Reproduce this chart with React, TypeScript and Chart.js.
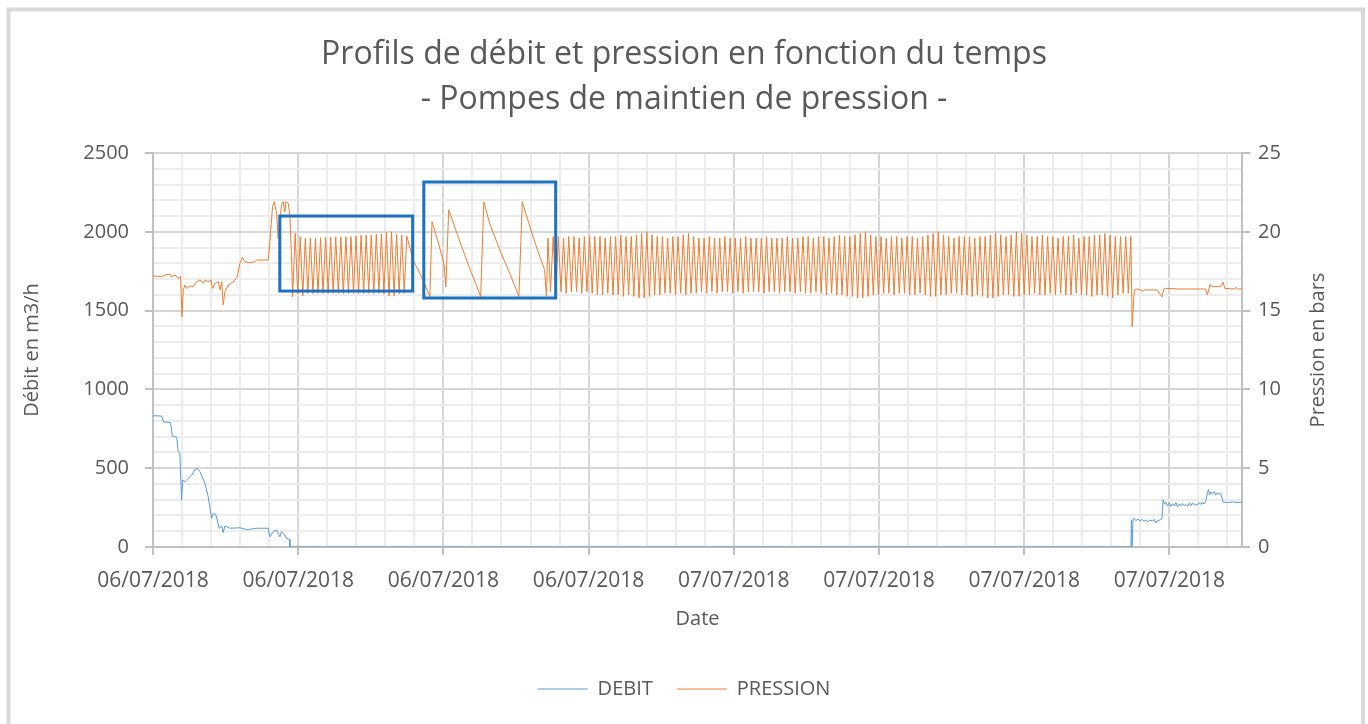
import React, { useEffect, useRef } from 'react';
import { Chart, registerables } from 'chart.js';

Chart.register(...registerables);

// ---------- Texts ----------
const TITLE_LINES = ['Profils de débit et pression en fonction du temps', '- Pompes de maintien de pression -'];
const X_TITLE = 'Date';
const Y_LEFT_TITLE = 'Débit en m3/h';
const Y_RIGHT_TITLE = 'Pression en bars';
const SERIES_NAMES = ['DEBIT', 'PRESSION'];

// ---------- X axis (hours since first label) ----------
const X_MAX = 45;
const X_MAJOR = 6;
const X_MINOR = 1.2;
const X_TICK_LABELS = ['06/07/2018', '06/07/2018', '06/07/2018', '06/07/2018', '07/07/2018', '07/07/2018', '07/07/2018', '07/07/2018'];

// ---------- Y axes ----------
const Y_LEFT_MAX = 2500;
const Y_LEFT_MAJOR = 500;
const Y_LEFT_MINOR = 100;
const Y_RIGHT_MAX = 25;
const Y_RIGHT_MAJOR = 5;

// ---------- DEBIT (m3/h) ----------
const DEBIT_START_T = [0, 0.36, 0.43, 0.73, 0.80, 0.98, 1.04, 1.11, 1.18, 1.23, 1.32, 1.46, 1.60, 1.73, 1.83, 1.94, 2.15, 2.28, 2.42, 2.49, 2.60, 2.74, 2.84, 2.90, 2.97, 3.18, 3.59, 3.90, 4.28, 4.76, 4.83, 4.97, 5.11, 5.24, 5.31, 5.45, 5.52, 5.63, 5.66];
const DEBIT_START_V = [833, 831, 795, 789, 704, 696, 605, 596, 298, 425, 414, 436, 457, 489, 499, 478, 404, 319, 182, 214, 203, 119, 133, 91, 133, 119, 122, 110, 119, 119, 65, 97, 108, 65, 97, 76, 55, 49, 0];
const DEBIT_END_T = [40.41, 40.43, 40.46, 40.50, 40.54, 40.62, 40.70, 40.78, 40.86, 40.95, 41.03, 41.12, 41.20, 41.30, 41.38, 41.44, 41.52, 41.58, 41.65, 41.69, 41.74, 41.80, 41.85, 41.92, 41.99, 42.06, 42.13, 42.20, 42.27, 42.34, 42.40, 42.47, 42.54, 42.61, 42.68, 42.75, 42.82, 42.89, 42.96, 43.03, 43.09, 43.16, 43.23, 43.30, 43.37, 43.43, 43.50, 43.57, 43.61, 43.66, 43.71, 43.78, 43.85, 43.92, 43.98, 44.05, 44.12, 44.22, 44.40, 44.60, 44.75, 45];
const DEBIT_END_V = [0, 171, 0, 180, 180, 168, 178, 165, 175, 163, 172, 160, 170, 165, 175, 152, 168, 170, 175, 178, 300, 272, 285, 262, 280, 258, 275, 262, 280, 255, 272, 260, 276, 262, 270, 258, 278, 263, 280, 265, 272, 268, 282, 270, 285, 272, 290, 340, 365, 330, 350, 335, 352, 330, 345, 335, 340, 285, 282, 286, 283, 284];

// ---------- PRESSION (bars) ----------
const PRES_START_T = [0, 0.36, 0.50, 0.70, 0.77, 0.91, 1.04, 1.14, 1.20, 1.25, 1.32, 1.39, 1.53, 1.66, 1.80, 1.94, 2.08, 2.15, 2.28, 2.39, 2.46, 2.56, 2.70, 2.77, 2.84, 2.90, 2.97, 3.11, 3.32, 3.48, 3.59, 3.70, 3.80, 4.00, 4.21, 4.28, 4.42, 4.76, 4.83, 4.94, 5.01, 5.11, 5.17, 5.31, 5.38, 5.45, 5.49, 5.59, 5.66, 5.73];
const PRES_START_V = [17.20, 17.15, 17.26, 17.32, 17.15, 17.26, 17.05, 17.15, 14.61, 16.31, 16.62, 16.41, 16.56, 16.52, 16.83, 16.94, 16.73, 16.94, 16.83, 16.94, 16.41, 16.73, 16.83, 16.31, 16.83, 15.36, 16.20, 16.62, 16.83, 17.15, 18.00, 18.38, 18.10, 18.04, 18.10, 18.21, 18.21, 18.21, 19.37, 21.60, 21.91, 21.17, 19.59, 21.70, 21.91, 21.27, 21.91, 21.81, 20.96, 18.00];

// first pump cycling block: logged at a regular interval
const OSC1_START = 5.77;
const OSC1_STEP = 0.1048;
const OSC1_VALUES = [15.88, 19.90, 16.05, 19.69, 15.95, 19.58, 16.10, 19.62, 16.08, 19.58, 16.10, 19.62, 16.10, 19.65, 16.08, 19.65, 16.10, 19.69, 16.10, 19.69, 16.08, 19.69, 16.10, 19.69, 16.10, 19.73, 16.08, 19.79, 16.10, 19.79, 16.10, 19.79, 16.08, 19.86, 16.10, 19.86, 16.05, 19.97, 15.92, 20.01, 15.95, 19.86, 16.08, 19.79, 16.10, 19.73];

const PRES_MID_T = [10.75, 11.16, 11.44, 11.53, 11.78, 12.03, 12.10, 12.22, 12.68, 13.09, 13.54, 13.67, 13.91, 14.33, 14.74, 15.12, 15.26, 15.64, 15.91, 16.18, 16.26];
const PRES_MID_V = [18.21, 16.94, 15.88, 20.64, 19.37, 17.90, 16.50, 21.40, 19.37, 17.68, 15.90, 21.90, 20.54, 18.85, 17.37, 15.90, 21.90, 20.00, 18.74, 17.60, 15.90];

// long pump cycling block: peaks and troughs logged at a regular interval
const OSC2_START = 16.32;
const OSC2_STEP = 0.10754;
const OSC2_PEAKS = [
  19.6, 19.7, 19.7, 19.6, 19.7, 19.7, 19.6, 19.7, 19.7, 19.7,
  19.7, 19.6, 19.7, 19.7, 19.8, 19.7, 19.7, 19.8, 19.9, 20.0,
  19.8, 19.7, 19.7, 19.6, 19.7, 19.7, 19.8, 19.9, 19.7, 19.6,
  19.6, 19.7, 19.6, 19.6, 19.7, 19.6, 19.6, 19.6, 19.7, 19.6,
  19.6, 19.6, 19.7, 19.6, 19.6, 19.6, 19.7, 19.6, 19.6, 19.7,
  19.7, 19.6, 19.7, 19.7, 19.6, 19.7, 19.8, 19.7, 19.7, 19.8,
  19.9, 20.0, 19.8, 19.7, 19.7, 19.6, 19.7, 19.7, 19.6, 19.7,
  19.7, 19.6, 19.7, 19.8, 19.9, 20.0, 19.8, 19.7, 19.6, 19.7,
  19.7, 19.7, 19.6, 19.7, 19.7, 19.8, 19.9, 19.8, 19.7, 19.8,
  20.0, 19.9, 19.8, 19.7, 19.7, 19.8, 19.7, 19.7, 19.6, 19.7,
  19.7, 19.8, 19.6, 19.7, 19.7, 19.8, 19.8, 19.9, 19.8, 19.7, 19.7, 19.7, 19.7,
];
const OSC2_TROUGHS = [
  16.2, 16.1, 16.2, 16.1, 16.2, 16.2, 16.1, 16.2, 16.1, 16.0,
  16.0, 16.1, 16.0, 16.0, 15.9, 16.0, 15.9, 15.8, 15.8, 15.9,
  16.0, 16.0, 16.1, 16.1, 16.0, 16.1, 16.0, 16.1, 16.1, 16.2,
  16.1, 16.2, 16.1, 16.2, 16.2, 16.1, 16.2, 16.1, 16.2, 16.2,
  16.2, 16.1, 16.2, 16.2, 16.1, 16.2, 16.2, 16.1, 16.2, 16.1,
  16.1, 16.2, 16.1, 16.0, 16.1, 16.0, 16.0, 15.9, 15.9, 15.8,
  15.8, 15.9, 16.0, 16.0, 16.1, 16.1, 16.0, 16.1, 16.1, 16.0,
  16.0, 16.1, 16.0, 15.9, 15.9, 16.0, 16.0, 16.1, 16.1, 16.0,
  16.0, 15.9, 16.0, 15.9, 15.8, 15.8, 15.9, 16.0, 16.0, 15.9,
  15.9, 16.0, 16.0, 16.1, 16.0, 16.0, 16.1, 16.0, 16.1, 16.0,
  16.0, 16.1, 16.0, 16.0, 15.9, 16.0, 16.0, 15.9, 15.8, 16.0, 16.1, 16.1,
];

const PRES_END_T = [40.46, 40.55, 40.68, 40.82, 40.89, 40.96, 41.23, 41.51, 41.58, 41.69, 41.78, 41.85, 42.40, 43.50, 43.57, 43.68, 43.75, 44.12, 44.22, 44.29, 44.68, 44.75, 44.81, 45];
const PRES_END_V = [13.98, 16.31, 16.37, 16.31, 16.20, 16.31, 16.31, 16.31, 16.10, 15.88, 16.41, 16.41, 16.37, 16.37, 15.99, 16.67, 16.52, 16.52, 16.80, 16.41, 16.37, 16.48, 16.37, 16.37];

// ---------- highlight frames (hours / m3/h) ----------
const BOX_X_START = [5.24, 11.19];
const BOX_X_END = [10.73, 16.64];
const BOX_Y_TOP = [2100, 2316];
const BOX_Y_BOTTOM = [1624, 1580];

// ---------- style ----------
const FONT = "'Open Sans', 'Noto Sans', 'DejaVu Sans', sans-serif";
const TEXT = '#595959';
const BLUE = '#5b9bd5';
const ORANGE = '#ed7d31';
const BOX_COLOR = '#1c71c0';
const MAJOR_GRID = '#d6d6d6';
const MINOR_GRID = '#ececec';
const AXIS_LINE = '#c0c0c0';
const FRAME = '#d9d9d9';

const isMultiple = (v: number, step: number) => {
  const k = v / step;
  return Math.abs(k - Math.round(k)) < 1e-6;
};

function buildPairs(ts: number[], vs: number[]) {
  return ts.map((t, i) => ({ x: t, y: vs[i] }));
}

function buildDebit() {
  return [...buildPairs(DEBIT_START_T, DEBIT_START_V), ...buildPairs(DEBIT_END_T, DEBIT_END_V)];
}

function buildPression() {
  const pts: { x: number; y: number }[] = [];
  pts.push(...buildPairs(PRES_START_T, PRES_START_V));
  OSC1_VALUES.forEach((v, i) => pts.push({ x: OSC1_START + i * OSC1_STEP, y: v }));
  pts.push(...buildPairs(PRES_MID_T, PRES_MID_V));
  const n = OSC2_PEAKS.length + OSC2_TROUGHS.length;
  for (let i = 0; i < n; i++) {
    const v = i % 2 === 0 ? OSC2_PEAKS[i / 2] : OSC2_TROUGHS[(i - 1) / 2];
    pts.push({ x: OSC2_START + i * OSC2_STEP, y: v });
  }
  pts.push(...buildPairs(PRES_END_T, PRES_END_V));
  return pts;
}

const framePlugin = {
  id: 'frame',
  beforeDraw(chart: any) {
    const { ctx, width, height } = chart;
    ctx.save();
    ctx.fillStyle = '#ffffff';
    ctx.fillRect(0, 0, width, height);
    ctx.strokeStyle = FRAME;
    ctx.lineWidth = 4;
    ctx.strokeRect(8.5, 9.5, width - 13.5, height + 40);
    ctx.restore();
  },
};

const boxesPlugin = {
  id: 'boxes',
  afterDatasetsDraw(chart: any) {
    const { ctx, scales } = chart;
    const xs = scales.x;
    const ys = scales.y;
    ctx.save();
    ctx.strokeStyle = BOX_COLOR;
    ctx.lineWidth = 3;
    BOX_X_START.forEach((x0, i) => {
      const px0 = xs.getPixelForValue(x0);
      const px1 = xs.getPixelForValue(BOX_X_END[i]);
      const py0 = ys.getPixelForValue(BOX_Y_TOP[i]);
      const py1 = ys.getPixelForValue(BOX_Y_BOTTOM[i]);
      ctx.strokeRect(px0, py0, px1 - px0, py1 - py0);
    });
    ctx.restore();
  },
};

const rightTitlePlugin = {
  id: 'rightTitle',
  afterDraw(chart: any) {
    const { ctx, chartArea } = chart;
    const s = chart.scales.y1;
    ctx.save();
    ctx.translate(s.right - 50, (chartArea.top + chartArea.bottom) / 2);
    ctx.rotate(-Math.PI / 2);
    ctx.fillStyle = TEXT;
    ctx.font = `20px ${FONT}`;
    ctx.textAlign = 'center';
    ctx.textBaseline = 'middle';
    ctx.fillText(Y_RIGHT_TITLE, 0, 0);
    ctx.restore();
  },
};

export default function App() {
  const canvasRef = useRef<HTMLCanvasElement | null>(null);

  useEffect(() => {
    document.body.style.margin = '0';
    const canvas = canvasRef.current;
    if (!canvas) return;
    const chart = new Chart(canvas, {
      type: 'line',
      data: {
        datasets: [
          {
            label: SERIES_NAMES[0],
            data: buildDebit(),
            borderColor: BLUE,
            backgroundColor: BLUE,
            borderWidth: 1,
            pointRadius: 0,
            tension: 0,
            yAxisID: 'y',
          },
          {
            label: SERIES_NAMES[1],
            data: buildPression(),
            borderColor: ORANGE,
            backgroundColor: ORANGE,
            borderWidth: 1,
            pointRadius: 0,
            tension: 0,
            yAxisID: 'y1',
          },
        ],
      },
      options: {
        responsive: false,
        animation: false,
        events: [],
        layout: { padding: { top: 10, left: 0, right: 0, bottom: 15 } },
        plugins: {
          title: {
            display: true,
            text: TITLE_LINES,
            color: TEXT,
            font: { family: FONT, size: 32, weight: 'normal', lineHeight: 1.4 },
            padding: { top: 22.5, bottom: 30.9 },
          },
          legend: {
            position: 'bottom',
            labels: {
              usePointStyle: true,
              pointStyle: 'line',
              pointStyleWidth: 50,
              padding: 24,
              color: TEXT,
              font: { family: FONT, size: 20 },
            },
          },
          tooltip: { enabled: false },
        },
        scales: {
          x: {
            type: 'linear',
            min: 0,
            max: X_MAX,
            afterFit(scale: any) {
              scale.height = 108;
            },
            ticks: {
              stepSize: X_MINOR,
              autoSkip: false,
              includeBounds: false,
              maxRotation: 0,
              minRotation: 0,
              padding: 13,
              color: TEXT,
              font: { family: FONT, size: 21 },
              callback: (v: any) => {
                const n = Number(v);
                return isMultiple(n, X_MAJOR) ? X_TICK_LABELS[Math.round(n / X_MAJOR)] ?? '' : '';
              },
            },
            grid: {
              color: (c: any) => (c.tick && isMultiple(c.tick.value, X_MAJOR) ? MAJOR_GRID : MINOR_GRID),
              lineWidth: 2,
              tickLength: 8,
              tickColor: (c: any) => (c.tick && isMultiple(c.tick.value, X_MAJOR) ? AXIS_LINE : 'rgba(0,0,0,0)'),
            },
            border: { display: true, color: AXIS_LINE, width: 2 },
            title: {
              display: true,
              text: X_TITLE,
              color: TEXT,
              font: { family: FONT, size: 20 },
              padding: { top: 0, bottom: 24 },
            },
          },
          y: {
            type: 'linear',
            position: 'left',
            min: 0,
            max: Y_LEFT_MAX,
            afterFit(scale: any) {
              scale.width = 153;
            },
            ticks: {
              stepSize: Y_LEFT_MINOR,
              autoSkip: false,
              padding: 16,
              color: TEXT,
              font: { family: FONT, size: 20 },
              callback: (v: any) => (isMultiple(Number(v), Y_LEFT_MAJOR) ? String(v) : ''),
            },
            grid: {
              color: (c: any) => (c.tick && isMultiple(c.tick.value, Y_LEFT_MAJOR) ? MAJOR_GRID : MINOR_GRID),
              lineWidth: 2,
              tickLength: 8,
              tickColor: (c: any) => (c.tick && isMultiple(c.tick.value, Y_LEFT_MAJOR) ? AXIS_LINE : 'rgba(0,0,0,0)'),
            },
            border: { display: true, color: AXIS_LINE, width: 2 },
            title: {
              display: true,
              text: Y_LEFT_TITLE,
              color: TEXT,
              font: { family: FONT, size: 20 },
              padding: { top: 20, bottom: 0 },
            },
          },
          y1: {
            type: 'linear',
            position: 'right',
            min: 0,
            max: Y_RIGHT_MAX,
            afterFit(scale: any) {
              scale.width = 126;
            },
            ticks: {
              stepSize: Y_RIGHT_MAJOR,
              padding: 8,
              color: TEXT,
              font: { family: FONT, size: 20 },
            },
            grid: {
              drawOnChartArea: false,
              tickLength: 8,
              tickColor: AXIS_LINE,
              lineWidth: 2,
            },
            border: { display: true, color: AXIS_LINE, width: 2 },
            title: { display: false },
          },
        },
      } as any,
      plugins: [framePlugin, boxesPlugin, rightTitlePlugin],
    });
    return () => chart.destroy();
  }, []);

  return (
    <div style={{ width: 1368, height: 724, position: 'relative' }}>
      <canvas ref={canvasRef} width={1368} height={724} style={{ display: 'block', width: 1368, height: 724 }} />
    </div>
  );
}
